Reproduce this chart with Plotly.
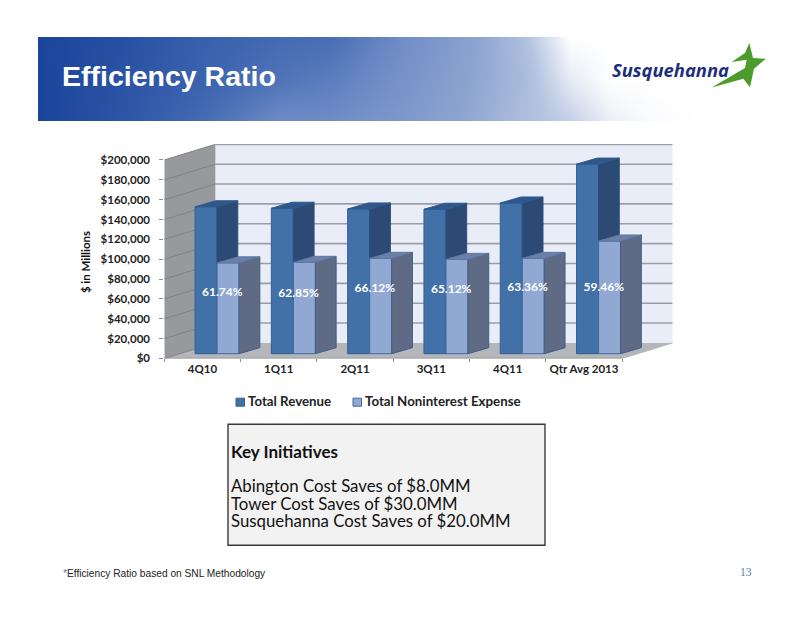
import plotly.graph_objects as go

# values
quarters = ["4Q10", "1Q11", "2Q11", "3Q11", "4Q11", "Qtr Avg 2013"]
total_revenue = [148000, 146500, 145800, 145500, 151800, 191000]
total_expense = [91500, 92000, 96000, 95000, 96000, 113500]
efficiency = ["61.74%", "62.85%", "66.12%", "65.12%", "63.36%", "59.46%"]
label_heights = [66000, 64500, 70000, 68500, 71000, 71000]
y_ticks = [0, 20000, 40000, 60000, 80000, 100000, 120000, 140000, 160000, 180000, 200000]

initiatives = ["Abington Cost Saves of $8.0MM", "Tower Cost Saves of $30.0MM", "Susquehanna Cost Saves of $20.0MM"]

# header band brightness, hand read at three heights
band_x = [38, 120, 200, 280, 330, 400, 470, 520, 570, 610, 650, 700, 810]
band_y = [37, 79, 121]
band_z = [
    [0.00, 0.08, 0.20, 0.28, 0.30, 0.50, 0.68, 0.82, 1.00, 1.00, 1.00, 1.00, 1.00],
    [0.00, 0.10, 0.22, 0.34, 0.40, 0.55, 0.70, 0.80, 0.95, 1.00, 1.00, 1.00, 1.00],
    [0.00, 0.12, 0.28, 0.50, 0.50, 0.60, 0.72, 0.82, 0.88, 0.96, 0.99, 1.00, 1.00],
]

W, H = 810, 625
LATO = "Lato"
# the photographed page: 8px body margin, and a bit less than the full height reaches the plot
PAGE, PAGE_H = 8, 618.7

# fake 3d: depth of the walls and bars, in axis units
WALL_DX, WALL_DY = 0.669, 15700
BAR_DX, BAR_DY = 0.272, 6100
FLOOR = 4800
REV_OFF, EXP_OFF, BAR_W = -0.097, 0.192, 0.288
XMIN, XMAX = -0.5, 6.163
YMAX = 216000


def px(x):
    return (x - PAGE) / W


def py(y):
    return 1 - (y - PAGE) / PAGE_H


def faces(values, off, lower=None):
    # side and top faces of one series, joined with gaps
    side_x, side_y, top_x, top_y = [], [], [], []
    for i, v in enumerate(values):
        x0 = i + off
        x1 = x0 + BAR_W
        top = FLOOR + v
        low = FLOOR if lower is None else FLOOR + lower[i]
        side_x += [x1, x1 + BAR_DX, x1 + BAR_DX, x1, x1, None]
        side_y += [top, top + BAR_DY, low + BAR_DY, low, top, None]
        top_x += [x0, x0 + BAR_DX, x1 + BAR_DX, x1, x0, None]
        top_y += [top, top + BAR_DY, top + BAR_DY, top, top, None]
    return side_x, side_y, top_x, top_y


fig = go.Figure()

fig.add_trace(go.Bar(x=list(range(6)), y=total_revenue, base=FLOOR, offset=REV_OFF, width=BAR_W,
                     name="Total Revenue", marker=dict(color="#4271a7", line=dict(color="#335f96", width=1))))
fig.add_trace(go.Bar(x=list(range(6)), y=total_expense, base=FLOOR, offset=EXP_OFF, width=BAR_W,
                     name="Total Noninterest Expense", marker=dict(color="#90a8d2", line=dict(color="#3f6aa0", width=1))))

rs_x, rs_y, rt_x, rt_y = faces(total_revenue, REV_OFF, total_expense)
es_x, es_y, et_x, et_y = faces(total_expense, EXP_OFF)
for fx, fy, col, edge in [
    (rs_x, rs_y, "#2d4a75", "#2b4f80"),
    (rt_x, rt_y, "#30578c", "#2f5a90"),
    (es_x, es_y, "#5f6b85", "#3f5f8c"),
    (et_x, et_y, "#6c80a6", "#5a78a5"),
]:
    fig.add_trace(go.Scatter(x=fx, y=fy, mode="lines", fill="toself", fillcolor=col,
                             line=dict(color=edge, width=1), hoverinfo="skip", showlegend=False))

fig.add_trace(go.Scatter(x=[i + 0.26 for i in range(6)], y=label_heights, text=efficiency, mode="text",
                         textposition="middle center",
                         textfont=dict(family=LATO, size=12, color="white", weight="bold"),
                         hoverinfo="skip", showlegend=False))

# header gradient lives on its own axes, clipped to the band
fig.add_trace(go.Heatmap(x=band_x, y=band_y, z=band_z, xaxis="x3", yaxis="y3", zsmooth="best", showscale=False,
                         zmin=0, zmax=1, hoverinfo="skip",
                         colorscale=[[0, "#1b459c"], [0.25, "#3f66b0"], [0.5, "#6f8cc6"], [0.7, "#8da4d0"],
                                     [0.85, "#b4c3e0"], [1, "#ffffff"]]))

shapes = []


def poly(points, fill, ref="data", layer="below"):
    path = "M " + " L ".join(f"{a},{b}" for a, b in points) + " Z"
    xr, yr = ("x", "y") if ref == "data" else ("paper", "paper")
    shapes.append(dict(type="path", path=path, xref=xr, yref=yr, fillcolor=fill, line=dict(width=0), layer=layer))


def seg(x0, y0, x1, y1, color, width):
    shapes.append(dict(type="line", x0=x0, y0=y0, x1=x1, y1=y1, xref="x", yref="y",
                       line=dict(color=color, width=width), layer="below"))


back_x = XMIN + WALL_DX
poly([(back_x, WALL_DY), (back_x, 200000 + WALL_DY), (XMAX, 200000 + WALL_DY), (XMAX, WALL_DY)], "#e9edf7")
poly([(XMIN, 0), (XMIN, 200000), (back_x, 200000 + WALL_DY), (back_x, WALL_DY)], "#97999c")
poly([(XMIN, 0), (5.5, 0), (XMAX, WALL_DY), (back_x, WALL_DY)], "#b4b6b9")
for v in y_ticks:
    seg(XMIN, v, back_x, v + WALL_DY, "#808285", 1)
    if v > 0:
        seg(back_x, v + WALL_DY, XMAX, v + WALL_DY, "#9b9ea3", 1.6)
seg(XMIN, 0, 5.5, 0, "#8e9093", 1.5)
seg(5.5, 0, XMAX, WALL_DY, "#b4b6b9", 1)

# key initiatives box
shapes.append(dict(type="rect", x0=px(228), x1=px(545), y0=py(545), y1=py(424), xref="paper", yref="paper",
                   fillcolor="#f2f2f2", line=dict(color="#3a3a3a", width=1.4), layer="below"))

# legend swatches
shapes.append(dict(type="rect", x0=px(236), x1=px(244.5), y0=py(406), y1=py(398), xref="paper", yref="paper",
                   fillcolor="#4271a7", line=dict(color="#335f96", width=1), layer="below"))
shapes.append(dict(type="rect", x0=px(353), x1=px(361.5), y0=py(406), y1=py(398), xref="paper", yref="paper",
                   fillcolor="#90a8d2", line=dict(color="#3f6aa0", width=1), layer="below"))

# logo star
star = [(749.3, 43), (753, 58), (765.7, 58.7), (754, 68.7), (750, 87.3), (743.3, 78.7), (711.7, 87.5),
        (745, 68), (746.7, 59.7), (731.7, 62), (745, 53)]
poly([(px(a), py(b)) for a, b in star], "#4b9c2a", ref="paper", layer="above")


def note(x, y, text, size, color, family=LATO, weight="normal", xanchor="left", angle=0):
    return dict(x=px(x), y=py(y), xref="paper", yref="paper", text=text, showarrow=False, xanchor=xanchor,
                yanchor="middle", textangle=angle, borderpad=0, xshift=0,
                font=dict(family=family, size=size, color=color, weight=weight))


annotations = [
    note(61, 76, "Efficiency Ratio", 28.5, "white", "Liberation Sans", "bold"),
    note(611, 69, "<i>Susquehanna</i>", 18.4, "#1b2f80", "Open Sans", "bold"),
    note(85, 262, "$ in Millions", 11.5, "#111111", LATO, "bold", "center", -90),
    note(247, 401, "Total Revenue", 13.3, "#222222", LATO, "bold"),
    note(364, 401, "Total Noninterest Expense", 13.3, "#222222", LATO, "bold"),
    note(230, 451, "Key Initiatives", 17, "#111111", LATO, "bold"),
    note(230, 485, initiatives[0], 16.8, "#111111"),
    note(230, 503, initiatives[1], 16.8, "#111111"),
    note(230, 520, initiatives[2], 16.8, "#111111"),
    note(62, 573, "<span style='color:#4f81bd'>*</span>Efficiency Ratio based on SNL Methodology", 10.2, "#222222",
         "Liberation Sans"),
    note(746, 572, "13", 11.5, "#4f81bd", "Liberation Serif", "normal", "center"),
]

fig.update_layout(
    width=W, height=H, margin=dict(l=0, r=0, t=0, b=0), autosize=False,
    paper_bgcolor="white", plot_bgcolor="rgba(0,0,0,0)", showlegend=False, barmode="overlay",
    font=dict(family=LATO), shapes=shapes, annotations=annotations,
    xaxis=dict(domain=[px(164.3), px(672.7)], range=[XMIN, XMAX], tickmode="array", tickvals=list(range(6)),
               ticktext=quarters, ticks="", showgrid=False, zeroline=False, showline=False, fixedrange=True,
               tickfont=dict(family=LATO, size=11.5, color="#222222", weight="bold"), ticklabelstandoff=2,
               minor=dict(tickmode="array", tickvals=[i - 0.5 for i in range(7)], ticks="outside", ticklen=3,
                          tickcolor="#8e9093", showgrid=False)),
    yaxis=dict(domain=[py(358.3), py(144)], range=[0, YMAX], tickmode="array", tickvals=y_ticks, tickformat="$,.0f",
               ticks="outside", ticklen=4, tickcolor="#8e9093", showgrid=False, zeroline=False, showline=False,
               ticklabelstandoff=7, fixedrange=True,
               tickfont=dict(family=LATO, size=11.5, color="#222222", weight="bold")),
    xaxis3=dict(domain=[px(38), 1], range=[38, 38 + W * (1 - px(38))], visible=False, fixedrange=True, anchor="y3"),
    yaxis3=dict(domain=[py(121), py(37)], range=[121, 37], visible=False, fixedrange=True, anchor="x3"),
)

fig.write_html("out.html")
